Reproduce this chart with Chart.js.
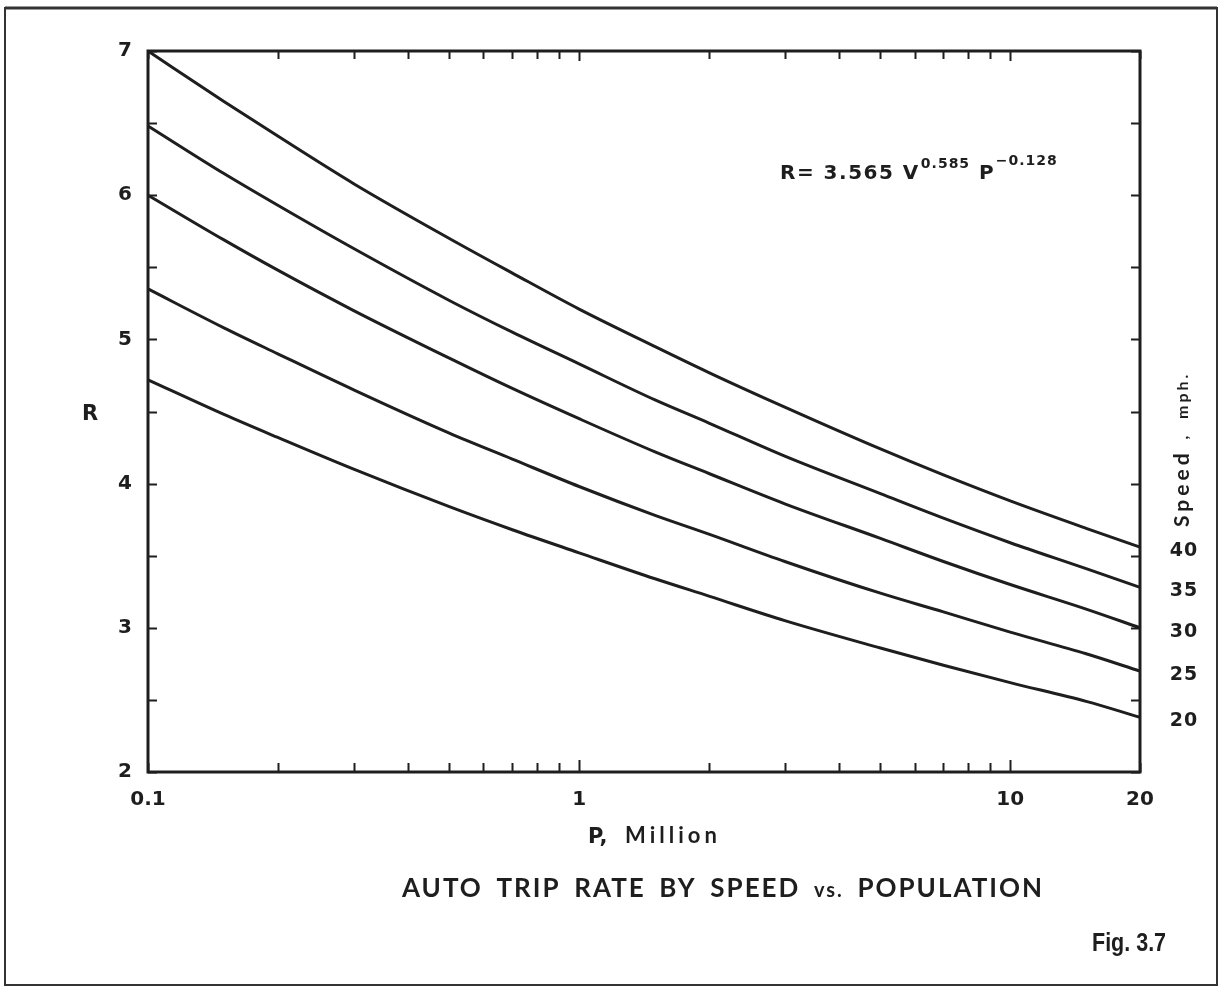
<!DOCTYPE html>
<html>
<head>
<meta charset="utf-8">
<title>Auto Trip Rate by Speed vs. Population</title>
<script src="https://cdn.jsdelivr.net/npm/chart.js@4.4.1/dist/chart.umd.min.js"></script>
<style>
  html, body { margin: 0; padding: 0; background: #ffffff; }
  #wrap { width: 1222px; height: 989px; position: relative; }
  canvas { display: block; }
</style>
</head>
<body>
<div id="wrap"><canvas id="chart" width="1222" height="989"></canvas></div>
<script>
// Population, millions (log axis)
const P_VALUES = [0.1, 0.15, 0.2, 0.3, 0.5, 0.7, 1, 1.5, 2, 3, 5, 7, 10, 15, 20];

// Trip rate R for each speed curve, read along the population axis
const R_40 = [7.00, 6.65, 6.41, 6.08, 5.70, 5.46, 5.21, 4.95, 4.77, 4.53, 4.24, 4.06, 3.88, 3.69, 3.56];
const R_35 = [6.48, 6.15, 5.93, 5.63, 5.27, 5.05, 4.83, 4.58, 4.42, 4.19, 3.93, 3.76, 3.59, 3.41, 3.28];
const R_30 = [6.00, 5.69, 5.48, 5.20, 4.87, 4.66, 4.45, 4.22, 4.07, 3.86, 3.62, 3.46, 3.30, 3.13, 3.00];
const R_25 = [5.35, 5.08, 4.90, 4.65, 4.35, 4.17, 3.98, 3.78, 3.65, 3.46, 3.24, 3.11, 2.97, 2.82, 2.70];
const R_20 = [4.72, 4.48, 4.32, 4.10, 3.84, 3.68, 3.52, 3.34, 3.22, 3.05, 2.86, 2.74, 2.62, 2.49, 2.38];

const SPEED_LABELS = ['40', '35', '30', '25', '20'];
const SPEED_SERIES = [R_40, R_35, R_30, R_25, R_20];

// Axis ticks
const X_TICKS = [0.1, 0.2, 0.3, 0.4, 0.5, 0.6, 0.7, 0.8, 0.9, 1, 2, 3, 4, 5, 6, 7, 8, 9, 10, 20];
const X_LABELS = [0.1, 1, 10, 20];
const Y_MIN = 2, Y_MAX = 7, Y_STEP = 0.5;

const INK = '#1e1e1e';
const NUM_FONT = "'DejaVu Sans', sans-serif";
const TEXT_FONT = "'Lato', 'Open Sans', sans-serif";

const datasets = SPEED_SERIES.map((vals, i) => ({
  label: SPEED_LABELS[i] + ' mph',
  data: P_VALUES.map((p, k) => ({ x: p, y: vals[k] })),
  borderColor: INK,
  borderWidth: 3,
  pointRadius: 0,
  fill: false,
  cubicInterpolationMode: 'monotone',
  clip: 4
}));

// Frame, inward tick marks and all annotation text
const decorations = {
  id: 'decorations',
  afterDraw(chart) {
    const ctx = chart.ctx;
    const a = chart.chartArea;
    const xs = chart.scales.x, ys = chart.scales.y;
    ctx.save();

    // page border
    ctx.strokeStyle = '#333';
    ctx.lineWidth = 2;
    ctx.strokeRect(5, 8, 1212, 977);
    ctx.lineWidth = 3;
    ctx.beginPath();
    ctx.moveTo(5, 8);
    ctx.lineTo(1217, 8);
    ctx.stroke();

    // plot frame
    ctx.strokeStyle = INK;
    ctx.lineWidth = 3;
    ctx.strokeRect(a.left, a.top, a.right - a.left, a.bottom - a.top);

    // x ticks, pointing into the plot from bottom and top
    ctx.lineWidth = 2;
    X_TICKS.forEach(v => {
      const px = Math.round(xs.getPixelForValue(v)) + 0.5;
      const major = (v === 1 || v === 10);
      const len = major ? 12 : 9;
      ctx.beginPath();
      ctx.moveTo(px, a.bottom);
      ctx.lineTo(px, a.bottom - len);
      ctx.moveTo(px, a.top);
      ctx.lineTo(px, a.top + (major ? 10 : 8));
      ctx.stroke();
    });

    // y ticks, pointing into the plot from left and right
    for (let v = Y_MIN; v <= Y_MAX; v += Y_STEP) {
      const py = Math.round(ys.getPixelForValue(v)) + 0.5;
      ctx.beginPath();
      ctx.moveTo(a.left, py);
      ctx.lineTo(a.left + 9, py);
      ctx.moveTo(a.right, py);
      ctx.lineTo(a.right - 9, py);
      ctx.stroke();
    }

    ctx.fillStyle = INK;
    ctx.textBaseline = 'alphabetic';

    // y axis title
    ctx.font = "bold 21px " + NUM_FONT;
    ctx.textAlign = 'center';
    ctx.fillText('R', 90, 420);

    // x axis title
    ctx.textAlign = 'left';
    ctx.font = "bold 21px " + NUM_FONT;
    ctx.fillText('P,', 588, 843);
    ctx.font = "bold 22px " + TEXT_FONT;
    ctx.letterSpacing = '4px';
    ctx.fillText('Million', 625, 843);
    ctx.letterSpacing = '0px';

    // equation
    let ex = 780;
    const eb = 179;
    const part = (txt, font, dy, spacing) => {
      ctx.font = font;
      ctx.letterSpacing = (spacing || 0) + 'px';
      ctx.fillText(txt, ex, eb + dy);
      ex += ctx.measureText(txt).width;
      ctx.letterSpacing = '0px';
    };
    part('R= 3.565 V', "bold 20px " + NUM_FONT, 0, 1.5);
    ex += 1;
    part('0.585', "bold 14px " + NUM_FONT, -11, 1);
    ex += 9;
    part('P', "bold 20px " + NUM_FONT, 0, 0);
    ex += 2;
    part('\u22120.128', "bold 14px " + NUM_FONT, -14, 1);

    // speed labels at the right-hand end of each curve
    ctx.font = "bold 19px " + NUM_FONT;
    ctx.textAlign = 'center';
    ctx.textBaseline = 'middle';
    SPEED_SERIES.forEach((vals, i) => {
      const py = ys.getPixelForValue(vals[vals.length - 1]);
      ctx.letterSpacing = '1px';
      ctx.fillText(SPEED_LABELS[i], 1184, py + 4);
    });
    ctx.letterSpacing = '0px';

    // rotated "Speed , mph." caption
    ctx.save();
    ctx.translate(1182, 527);
    ctx.rotate(-Math.PI / 2);
    ctx.textAlign = 'left';
    ctx.textBaseline = 'middle';
    ctx.font = "bold 21px " + TEXT_FONT;
    ctx.letterSpacing = '4px';
    ctx.fillText('Speed', 0, 0);
    const sw = ctx.measureText('Speed').width;
    ctx.font = "bold 16px " + TEXT_FONT;
    ctx.letterSpacing = '3px';
    ctx.fillText(',  mph.', sw + 10, 1);
    ctx.restore();

    // figure title, words laid out across a fixed span
    ctx.textAlign = 'left';
    ctx.textBaseline = 'alphabetic';
    const words = ['AUTO', 'TRIP', 'RATE', 'BY', 'SPEED', 'vs.', 'POPULATION'];
    const fontFor = w => (w === 'vs.' ? "bold 20px " : "bold 26px ") + TEXT_FONT;
    const spacing = 2;
    ctx.letterSpacing = spacing + 'px';
    const widths = words.map(w => { ctx.font = fontFor(w); return ctx.measureText(w).width; });
    const total = widths.reduce((s, w) => s + w, 0);
    const gap = (1044 - 402 - total) / (words.length - 1);
    let tx = 402;
    words.forEach((w, i) => {
      ctx.font = fontFor(w);
      ctx.fillText(w, tx, 897);
      tx += widths[i] + gap;
    });
    ctx.letterSpacing = '0px';

    // figure number, slightly condensed
    ctx.save();
    ctx.translate(1092, 951);
    ctx.scale(0.86, 1);
    ctx.font = "bold 25px 'Liberation Sans', 'Open Sans', sans-serif";
    ctx.fillText('Fig. 3.7', 0, 0);
    ctx.restore();

    ctx.restore();
  }
};

new Chart(document.getElementById('chart'), {
  type: 'line',
  data: { datasets },
  options: {
    responsive: false,
    animation: false,
    devicePixelRatio: 1,
    layout: { padding: { top: 51, right: 82, bottom: 0, left: 0 } },
    plugins: {
      legend: { display: false },
      tooltip: { enabled: false },
      title: { display: false }
    },
    scales: {
      x: {
        type: 'logarithmic',
        min: 0.1,
        max: 20,
        afterBuildTicks(scale) {
          scale.ticks = X_TICKS.map(v => ({ value: v }));
        },
        afterFit(scale) { scale.height = 217; },
        grid: { display: false, drawTicks: false },
        border: { display: false },
        ticks: {
          autoSkip: false,
          maxRotation: 0,
          minRotation: 0,
          padding: 16,
          color: INK,
          font: { family: NUM_FONT, size: 20, weight: 'bold' },
          callback: (v) => X_LABELS.includes(v) ? String(v) : ''
        }
      },
      y: {
        type: 'linear',
        min: Y_MIN,
        max: Y_MAX,
        afterFit(scale) { scale.width = 148; },
        grid: { display: false, drawTicks: false },
        border: { display: false },
        ticks: {
          stepSize: Y_STEP,
          padding: 16,
          color: INK,
          font: { family: NUM_FONT, size: 20, weight: 'bold' },
          callback: (v) => Number.isInteger(v) ? String(v) : ''
        }
      }
    }
  },
  plugins: [decorations]
});
</script>
</body>
</html>
